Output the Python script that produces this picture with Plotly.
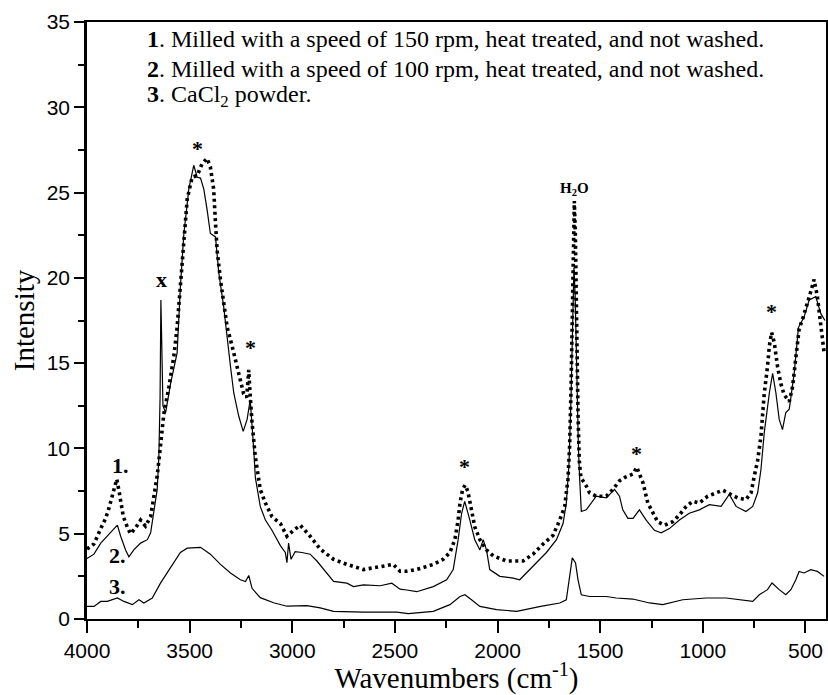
import plotly.graph_objects as go

# ---- Data ----
x1 = [4000, 3966, 3933, 3909, 3893, 3877, 3862, 3855, 3844, 3836, 3823, 3804, 3788, 3763, 3739, 3715,
      3690, 3674, 3658, 3645, 3635, 3626, 3601, 3577, 3561, 3545, 3528, 3512, 3488, 3463, 3439, 3415,
      3399, 3383, 3374, 3366, 3350, 3334, 3317, 3293, 3269, 3237, 3222, 3212, 3206, 3196, 3180, 3170,
      3156, 3131, 3099, 3058, 3026, 2994, 2961, 2913, 2864, 2799, 2734, 2653, 2556, 2508, 2475, 2443,
      2394, 2313, 2265, 2232, 2208, 2192, 2183, 2170, 2158, 2145, 2127, 2111, 2086, 2054, 2021, 1956,
      1876, 1827, 1778, 1730, 1697, 1673, 1657, 1649, 1642, 1636, 1630, 1626, 1621, 1615, 1608, 1602,
      1594, 1568, 1552, 1519, 1470, 1438, 1406, 1380, 1357, 1340, 1322, 1292, 1268, 1244, 1220, 1187,
      1147, 1114, 1081, 1049, 1017, 976, 936, 903, 863, 831, 790, 765, 749, 733, 717, 709,
      701, 685, 676, 665, 652, 636, 620, 604, 579, 563, 547, 531, 511, 490, 474, 458,
      442, 430, 420, 409]
y1 = [4.1, 4.4, 5.3, 5.9, 6.5, 7.2, 7.8, 8.2, 7.5, 6.8, 6.0, 5.4, 5.0, 5.35, 5.8, 5.45,
      6.0, 7.2, 8.4, 9.8, 11.0, 12.0, 13.6, 15.4, 17.1, 19.7, 22.6, 24.6, 25.9, 26.0, 26.7, 27.0,
      26.5, 25.2, 23.2, 21.6, 19.9, 18.5, 17.1, 16.0, 14.8, 13.2, 13.0, 14.6, 13.3, 11.5, 9.5, 8.6,
      7.6, 6.8, 6.0, 5.6, 4.85, 5.2, 5.5, 4.85, 4.1, 3.5, 3.2, 2.9, 3.1, 3.2, 2.8, 2.8,
      2.9, 3.2, 3.5, 3.9, 4.65, 5.8, 6.8, 7.6, 7.85, 7.5, 6.4, 5.4, 4.65, 4.05, 3.7, 3.4,
      3.4, 3.8, 4.4, 4.9, 5.8, 6.6, 8.2, 10.1, 13.5, 18.5, 23.0, 24.5, 22.5, 17.0, 12.0, 9.3,
      8.3, 7.8, 7.4, 7.2, 7.2, 7.6, 8.1, 8.3, 8.4, 8.5, 8.9, 8.0, 6.8, 6.2, 5.7, 5.5,
      5.7, 6.1, 6.6, 6.9, 6.8, 7.2, 7.4, 7.55, 7.3, 7.1, 7.0, 7.4, 8.4, 9.3, 10.7, 11.9,
      13.2, 14.8, 16.0, 16.8, 16.2, 14.8, 13.8, 13.15, 12.75, 13.6, 15.2, 17.0, 17.7, 18.5, 19.2, 19.9,
      18.9, 17.7, 16.6, 15.6]

x2 = [4000, 3966, 3933, 3901, 3877, 3852, 3836, 3812, 3796, 3772, 3739, 3706, 3690, 3674, 3658, 3650,
      3644, 3640, 3636, 3630, 3617, 3593, 3561, 3545, 3528, 3504, 3480, 3463, 3447, 3431, 3415, 3399,
      3374, 3358, 3334, 3317, 3301, 3285, 3261, 3239, 3220, 3205, 3196, 3188, 3180, 3156, 3131, 3099,
      3058, 3034, 3026, 3018, 3006, 2986, 2953, 2913, 2880, 2848, 2799, 2734, 2702, 2653, 2572, 2515,
      2475, 2443, 2394, 2313, 2248, 2216, 2192, 2175, 2160, 2135, 2111, 2086, 2070, 2054, 2038, 1989,
      1924, 1892, 1859, 1811, 1762, 1713, 1681, 1665, 1652, 1642, 1636, 1628, 1622, 1614, 1606, 1600,
      1592, 1568, 1543, 1519, 1470, 1430, 1406, 1390, 1365, 1340, 1309, 1276, 1236, 1203, 1163, 1114,
      1066, 1017, 968, 911, 871, 838, 790, 757, 733, 717, 701, 676, 660, 644, 628, 612,
      596, 579, 555, 534, 507, 482, 450, 425, 405]
y2 = [3.55, 3.8, 4.45, 4.85, 5.2, 5.5, 4.85, 4.05, 3.65, 4.05, 4.45, 4.65, 5.05, 6.2, 7.6, 9.5,
      13.0, 18.7, 15.0, 12.5, 12.1, 13.8, 15.6, 19.5, 22.6, 25.2, 26.6, 25.9, 25.85, 25.2, 24.0, 22.6,
      22.4, 20.3, 18.3, 16.4, 14.8, 13.25, 11.9, 11.0, 11.7, 12.85, 11.5, 10.0, 8.3, 6.6, 5.8, 5.2,
      4.3, 3.9, 3.3, 4.45, 3.5, 3.95, 3.9, 3.8, 3.4, 2.9, 2.2, 2.1, 1.9, 2.0, 1.95, 2.1,
      1.75, 1.7, 1.6, 1.9, 2.3, 2.9, 4.65, 6.2, 6.9, 5.8, 4.65, 4.05, 4.65, 4.05, 2.9, 2.5,
      2.4, 2.3, 2.7, 3.3, 3.9, 4.65, 5.6, 6.8, 9.1, 13.0, 17.0, 20.6, 19.0, 14.0, 10.0, 8.2,
      6.3, 6.4, 6.8, 7.2, 7.1, 7.6, 7.2, 6.4, 5.9, 5.9, 6.4, 5.8, 5.2, 5.05, 5.3, 5.8,
      6.2, 6.4, 6.7, 6.6, 7.3, 6.6, 6.3, 6.6, 7.4, 8.75, 10.9, 13.25, 14.4, 13.25, 11.7, 11.1,
      12.1, 12.3, 14.4, 17.1, 17.7, 18.7, 18.9, 17.9, 17.5]

x3 = [4000, 3966, 3933, 3901, 3852, 3820, 3779, 3747, 3723, 3682, 3642, 3609, 3577, 3545, 3512, 3447,
      3399, 3350, 3301, 3253, 3228, 3212, 3196, 3156, 3091, 3026, 2929, 2864, 2799, 2653, 2491, 2435,
      2313, 2232, 2183, 2159, 2127, 2086, 2005, 1907, 1790, 1697, 1665, 1649, 1636, 1620, 1608, 1592,
      1552, 1470, 1422, 1341, 1260, 1195, 1098, 984, 887, 757, 725, 685, 663, 628,
      596, 571, 547, 531, 507, 474, 442, 409]
y3 = [0.74, 0.74, 1.03, 1.03, 1.23, 1.03, 0.84, 1.13, 0.94, 1.23, 2.1, 2.7, 3.3, 3.9, 4.15, 4.2,
      3.8, 3.2, 2.7, 2.3, 2.2, 2.55, 1.8, 1.25, 0.95, 0.75, 0.78, 0.65, 0.45, 0.4, 0.4, 0.32,
      0.45, 0.84, 1.32, 1.42, 1.13, 0.74, 0.55, 0.45, 0.74, 0.94, 1.13, 2.5, 3.58, 3.28, 2.3, 1.42,
      1.32, 1.32, 1.23, 1.17, 0.94, 0.84, 1.13, 1.23, 1.23, 1.03, 1.42, 1.72, 2.11, 1.72,
      1.42, 1.72, 2.3, 2.79, 2.7, 2.89, 2.79, 2.5]

x_ticks = [4000, 3500, 3000, 2500, 2000, 1500, 1000, 500]
y_ticks = [0, 5, 10, 15, 20, 25, 30, 35]

legend_lines = [
    "<b>1</b>. Milled with a speed of 150 rpm, heat treated, and not washed.",
    "<b>2</b>. Milled with a speed of 100 rpm, heat treated, and not washed.",
    "<b>3</b>. CaCl<sub>2</sub> powder.",
]
legend_y = [34.0, 32.25, 30.65]

# peak marks: (text, x, y, size)
marks = [
    ("*", 3462, 27.6, 22),
    ("x", 3636, 19.9, 22),
    ("*", 3204, 15.9, 22),
    ("*", 2163, 8.95, 22),
    ("H<sub>2</sub>O", 1625, 25.2, 15),
    ("*", 1322, 9.7, 22),
    ("*", 665, 18.0, 22),
    ("1.", 3836, 9.0, 22),
    ("2.", 3852, 3.75, 22),
    ("3.", 3852, 1.9, 22),
]

fig = go.Figure()
fig.add_trace(go.Scatter(x=x3, y=y3, mode="lines", line=dict(color="black", width=1.2), name="3"))
fig.add_trace(go.Scatter(x=x2, y=y2, mode="lines", line=dict(color="black", width=1.2), name="2"))
fig.add_trace(go.Scatter(x=x1, y=y1, mode="lines",
                         line=dict(color="black", width=3.6, dash="3px,3.5px"), name="1"))

serif = "Liberation Serif"
sans = "Liberation Sans"

for t, yy in zip(legend_lines, legend_y):
    fig.add_annotation(x=3718, y=yy, xref="x", yref="y", text=t, showarrow=False,
                       xanchor="left", yanchor="middle",
                       font=dict(family=serif, size=24, color="black"))

for t, xx, yy, sz in marks:
    fig.add_annotation(x=xx, y=yy, xref="x", yref="y", text="<b>%s</b>" % t, showarrow=False,
                       xanchor="center", yanchor="middle",
                       font=dict(family=serif, size=sz, color="black"))

fig.update_layout(
    width=828, height=695,
    margin=dict(l=87, r=2, t=22, b=76),
    paper_bgcolor="white", plot_bgcolor="white",
    showlegend=False,
    font=dict(family=sans, color="black"),
)
fig.update_xaxes(
    range=[4000, 400], tickvals=x_ticks, ticktext=[str(v) for v in x_ticks],
    ticks="outside", ticklen=12, tickwidth=2, tickcolor="black",
    minor=dict(dtick=250, ticks="outside", ticklen=7, tickwidth=1.5, tickcolor="black", showgrid=False),
    showline=True, linecolor="black", linewidth=2, mirror=True,
    showgrid=False, zeroline=False,
    tickfont=dict(family=sans, size=21, color="black"),
    title=dict(text="Wavenumbers (cm<sup>-1</sup>)", font=dict(family=serif, size=29, color="black"), standoff=2),
    automargin=False,
)
fig.update_yaxes(
    range=[0, 35], tickvals=y_ticks, ticktext=[str(v) for v in y_ticks],
    ticks="outside", ticklen=10, tickwidth=2, tickcolor="black",
    minor=dict(dtick=2.5, ticks="outside", ticklen=6, tickwidth=1.5, tickcolor="black", showgrid=False),
    showline=True, linecolor="black", linewidth=2.5, mirror=True,
    showgrid=False, zeroline=False,
    tickfont=dict(family=sans, size=21, color="black"),
    title=dict(text="Intensity", font=dict(family=serif, size=29, color="black"), standoff=4),
    automargin=False,
)

fig.write_html("out.html")
